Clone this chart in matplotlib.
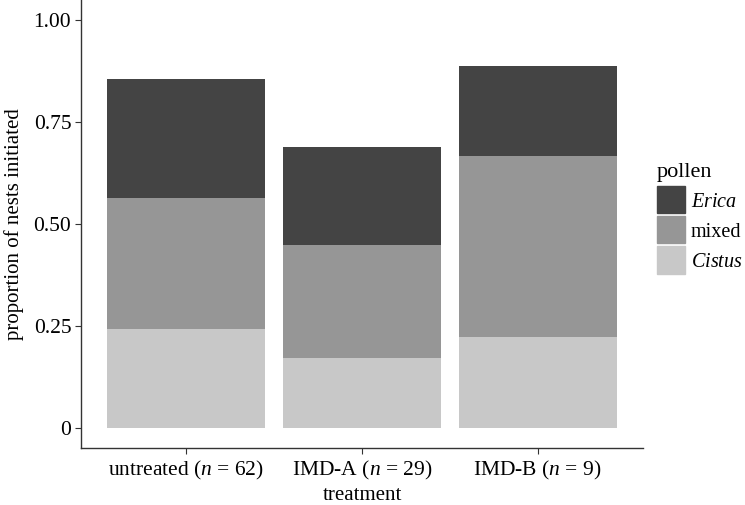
import numpy as np
import matplotlib
matplotlib.use("Agg")
import matplotlib.pyplot as plt
from matplotlib.patches import Patch, Rectangle
from matplotlib.legend_handler import HandlerPatch

plt.rcParams['font.family'] = ['Liberation Serif', 'DejaVu Serif']
plt.rcParams['mathtext.fontset'] = 'custom'
plt.rcParams['mathtext.it'] = 'Liberation Serif:italic'
plt.rcParams['mathtext.rm'] = 'Liberation Serif'

treatments = ["untreated ($n$ = 62)", "IMD-A ($n$ = 29)", "IMD-B ($n$ = 9)"]
cistus = [0.242, 0.172, 0.222]
mixed = [0.323, 0.276, 0.444]
erica = [0.290, 0.241, 0.222]
yticks = [0, 0.25, 0.50, 0.75, 1.00]
ytick_labels = ["0", "0.25", "0.50", "0.75", "1.00"]

col_erica = '#444444'
col_mixed = '#969696'
col_cistus = '#c8c8c8'

fig = plt.figure(figsize=(7.45, 5.05), dpi=100)
ax = fig.add_axes([81/745, 57/505, 562/745, 448/505])

x = np.arange(1, len(treatments) + 1)
b1 = np.array(cistus)
b2 = b1 + np.array(mixed)
ax.bar(x, cistus, width=0.9, color=col_cistus)
ax.bar(x, mixed, width=0.9, bottom=b1, color=col_mixed)
ax.bar(x, erica, width=0.9, bottom=b2, color=col_erica)

ax.set_xlim(0.4, 3.6)
ax.set_ylim(-0.05, 1.05)
ax.set_xticks(x)
ax.set_xticklabels(treatments, fontsize=15.5)
ax.set_yticks(yticks)
ax.set_yticklabels(ytick_labels, fontsize=15.5)
ax.tick_params(length=4, color='#333333', width=0.8, pad=3)
ax.tick_params(axis='x', pad=4)
for s in ['top', 'right']:
    ax.spines[s].set_visible(False)
for s in ['left', 'bottom']:
    ax.spines[s].set_color('#333333')
    ax.spines[s].set_linewidth(1.0)

ax.set_xlabel('treatment', fontsize=15, labelpad=3)
ax.set_ylabel('proportion of nests initiated', fontsize=15, labelpad=7)


# square legend keys, about 27 px tall, centred on each row
def key_patch(legend, orig_handle, xdescent, ydescent, width, height, fontsize):
    h = 19.5
    cy = -ydescent + height / 2.0
    return Rectangle((-xdescent, cy - h / 2.0), width, h)


handles = [Patch(color=col_erica), Patch(color=col_mixed), Patch(color=col_cistus)]
labels = ['$Erica$', 'mixed', '$Cistus$']
leg = ax.legend(handles, labels, title='pollen', loc='center left',
                bbox_to_anchor=(1.01, 0.515), frameon=False, fontsize=14.5,
                title_fontsize=16, handlelength=1.4, handleheight=0.7,
                handletextpad=0.3, labelspacing=0.55, borderaxespad=0,
                handler_map={Patch: HandlerPatch(patch_func=key_patch)})
leg._legend_box.align = 'left'

fig.savefig('out.png', dpi=100)
